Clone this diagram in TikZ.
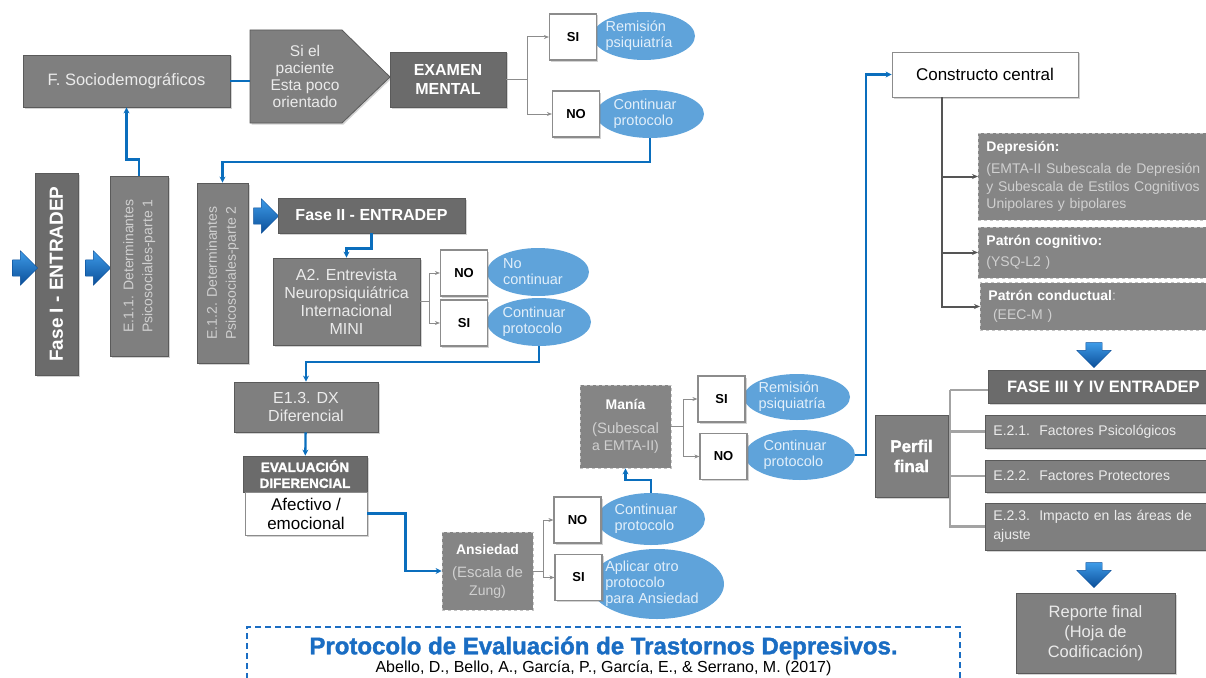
\documentclass[tikz,border=0pt]{standalone}
\usepackage{fontspec}
\setmainfont{Liberation Sans}
\newfontfamily\heavyfont[BoldFeatures={FakeBold=1.6}]{Liberation Sans}
\usetikzlibrary{arrows.meta,shapes.geometric,shapes.arrows,shadows}

\definecolor{boxgray}{HTML}{7F7F7F}
\definecolor{headgray}{HTML}{6B6B6B}
\definecolor{boxline}{HTML}{5A5A5A}
\definecolor{boxtext}{HTML}{EBEBEB}
\definecolor{softtext}{HTML}{D0D0D0}
\definecolor{dashgray}{HTML}{858585}
\definecolor{dashline}{HTML}{C4C4C4}
\definecolor{ellblue}{HTML}{5FA3DA}
\definecolor{elltext}{HTML}{E2EFFA}
\definecolor{flowblue}{HTML}{0A6EBD}
\definecolor{branchgray}{HTML}{8C8C8C}
\definecolor{treegray}{HTML}{555555}
\definecolor{plinegray}{HTML}{A3A3A3}
\definecolor{arrowtop}{HTML}{3E9BE8}
\definecolor{arrowbot}{HTML}{0B4F99}
\definecolor{titleblue}{HTML}{1A6DC3}

\begin{document}
\begin{tikzpicture}[x=1pt, y=-1pt,
    shade/.style={drop shadow={shadow xshift=1.5pt, shadow yshift=-1.5pt, opacity=0.35}},
    box/.style={rectangle, fill=boxgray, draw=boxline, line width=0.8pt, shade,
        text=boxtext, align=center, inner sep=3pt, font=\fontsize{16}{18}\selectfont},
    headbox/.style={box, fill=headgray, text=white, font=\bfseries\fontsize{16}{19}\selectfont},
    whitebox/.style={box, fill=white, draw=branchgray, text=black, font=\fontsize{17}{19}\selectfont},
    dashbox/.style={rectangle, fill=dashgray, draw=dashline, dashed, line width=0.8pt,
        text=softtext, align=center, inner sep=8pt, font=\fontsize{14}{17.5}\selectfont},
    choice/.style={rectangle, fill=white, draw=branchgray, line width=1.2pt, shade,
        minimum width=47, minimum height=46, font=\bfseries\fontsize{13}{15}\selectfont},
    answer/.style={ellipse, fill=ellblue, inner sep=0pt,
        label={[align=left, text=elltext, xshift=-5pt, font=\fontsize{14.5}{16}\selectfont]center:{#1}}},
    flow/.style={flowblue, line width=2.3pt, -{Stealth[length=6pt, width=6pt]}},
    link/.style={flowblue, line width=2.3pt},
    branch/.style={branchgray, line width=1pt, -{Stealth[length=5pt, width=4pt]}},
    tree/.style={treegray, line width=2pt, -{Stealth[length=6pt, width=5pt]}},
    pline/.style={plinegray, line width=2.5pt},
    bigarrow/.style={single arrow, draw=arrowbot, top color=arrowtop, bottom color=arrowbot,
        inner sep=8pt, minimum height=25, single arrow head extend=9pt},
    titlebox/.style={rectangle, draw=titleblue, line width=1.5pt, dash pattern=on 6pt off 4pt,
        align=center}
]
    \useasboundingbox (0,0) rectangle (1206,677);

    % fase I
    \node[box, minimum width=207, minimum height=52, font=\fontsize{16.5}{18}\selectfont]
        (socio) at (126.5,81) {F. Sociodemográficos};
    \draw[fill=boxgray, draw=boxline, line width=0.8pt, shade]
        (250,30) -- (342,30) -- (390,77) -- (342,123) -- (250,123) -- cycle;
    \node[text=boxtext, align=center, font=\fontsize{15.5}{17}\selectfont] (paciente) at (305,76)
        {Si el\\paciente\\Esta poco\\orientado};
    \coordinate (pentL) at (250,81);
    \node[headbox, minimum width=116, minimum height=55] (examen) at (448,79.5) {EXAMEN\\MENTAL};

    \node[answer={Remisión\\psiquiatría}, minimum width=102, minimum height=48] (remA) at (644,36) {};
    \node[answer={Continuar\\protocolo}, minimum width=108, minimum height=48] (contA) at (650,114) {};
    \node[choice] (siA) at (573,37) {SI};
    \node[choice] (noA) at (576,114) {NO};

    \node[headbox, minimum width=43, minimum height=202, font=\bfseries\fontsize{19}{21}\selectfont]
        (fase1) at (56.5,274) {\rotatebox{90}{Fase I - ENTRADEP}};
    \node[bigarrow] (in0) at (21,268) {};
    \node[bigarrow] (in1) at (94,268) {};
    \node[box, text=softtext, minimum width=58, minimum height=180, font=\fontsize{14}{19}\selectfont]
        (e11) at (139,266) {\rotatebox{90}{\begin{tabular}{@{}c@{}}E.1.1. Determinantes\\Psicosociales-parte 1\end{tabular}}};
    \node[box, text=softtext, minimum width=51, minimum height=180, font=\fontsize{14}{19}\selectfont]
        (e12) at (222.5,273) {\rotatebox{90}{\begin{tabular}{@{}c@{}}E.1.2. Determinantes\\Psicosociales-parte 2\end{tabular}}};

    % fase II
    \node[bigarrow] (in2) at (262,216) {};
    \node[headbox, minimum width=187, minimum height=35] (fase2) at (371.5,215.5) {Fase II - ENTRADEP};
    \node[box, minimum width=147, minimum height=87] (a2) at (346.5,301.5)
        {A2. Entrevista\\Neuropsiquiátrica\\Internacional\\MINI};
    \node[answer={No\\continuar}, minimum width=102, minimum height=48] (noContB) at (538,272) {};
    \node[answer={Continuar\\protocolo}, minimum width=104, minimum height=48] (contB) at (539,322) {};
    \node[choice] (noB) at (464,273) {NO};
    \node[choice] (siB) at (464,323) {SI};

    \node[box, minimum width=144, minimum height=50] (e13) at (306,407) {E1.3. DX\\Diferencial};
    \node[headbox, minimum width=124, minimum height=36, font=\heavyfont\bfseries\fontsize{13.5}{16}\selectfont]
        (evalh) at (305,474) {EVALUACIÓN\\DIFERENCIAL};
    \node[whitebox, minimum width=122, minimum height=43] (afect) at (306,513.5) {Afectivo /\\emocional};

    \node[dashbox, minimum width=91, minimum height=78] (ansied) at (487.5,571)
        {{\bfseries\color{white}Ansiedad}\\[6pt]\fontsize{15}{17}\selectfont(Escala de\\Zung)};
    \node[answer={Continuar\\protocolo}, minimum width=108, minimum height=52] (contC) at (651,519) {};
    \node[answer={Aplicar otro\\protocolo\\para Ansiedad}, minimum width=134, minimum height=70] (aplic) at (657,584) {};
    \node[choice] (noC) at (577.5,520) {NO};
    \node[choice] (siC) at (578.5,577.5) {SI};

    \node[dashbox, minimum width=91, minimum height=83] (mania) at (625.5,426.5)
        {{\bfseries\color{white}Manía}\\[6pt]\fontsize{15}{17}\selectfont(Subescal\\a EMTA-II)};
    \node[answer={Remisión\\psiquiatría}, minimum width=106, minimum height=46] (remD) at (797,397) {};
    \node[answer={Continuar\\protocolo}, minimum width=110, minimum height=50] (contD) at (800,455) {};
    \node[choice] (siD) at (721.5,399) {SI};
    \node[choice] (noD) at (723.5,456.5) {NO};

    % constructo y fases III-IV
    \node[whitebox, minimum width=186, minimum height=45] (constr) at (985,74.5) {Constructo central};
    \node[dashbox, anchor=west, align=left, minimum width=240, minimum height=87, text width=224]
        (depr) at (978,176.5) {{\bfseries\color{white}Depresión:}\\[5pt](EMTA-II Subescala de Depresión\\y Subescala de Estilos Cognitivos\\Unipolares y bipolares};
    \node[dashbox, anchor=west, align=left, minimum width=240, minimum height=51, text width=224]
        (pcog) at (978,252.5) {{\bfseries\color{white}Patrón cognitivo:}\\[3pt](YSQ-L2 )};
    \node[dashbox, anchor=west, align=left, minimum width=238, minimum height=43, text width=222]
        (pcond) at (980,306.5) {{\bfseries\color{white}Patrón conductual}:\\[1pt]\ (EEC-M )};
    \coordinate (ctop) at (942,97);

    \node[bigarrow, shape border rotate=270] (dn1) at (1094,351) {};
    \node[headbox, anchor=west, minimum width=230, minimum height=33, font=\bfseries\fontsize{16.5}{18}\selectfont]
        (fase34) at (988,386.5) {FASE III Y IV ENTRADEP};
    \node[headbox, fill=boxgray, minimum width=73, minimum height=82, font=\heavyfont\bfseries\fontsize{17}{20}\selectfont]
        (perfil) at (911.5,456) {Perfil\\final};
    \node[box, anchor=west, align=left, minimum width=232, minimum height=33, text width=216, inner xsep=8pt,
        font=\fontsize{14}{17}\selectfont] (e21) at (985,431.5) {E.2.1.\ \ Factores Psicológicos};
    \node[box, anchor=west, align=left, minimum width=232, minimum height=32, text width=216, inner xsep=8pt,
        font=\fontsize{14}{17}\selectfont] (e22) at (985,476) {E.2.2.\ \ Factores Protectores};
    \node[box, anchor=west, align=left, minimum width=232, minimum height=47, text width=216, inner xsep=8pt,
        font=\fontsize{14}{19}\selectfont] (e23) at (985,526.5) {E.2.3.\ \ Impacto en las áreas de\\ajuste};
    \coordinate (ptop) at (950,390);

    \node[bigarrow, shape border rotate=270] (dn2) at (1094,571) {};
    \node[box, minimum width=159, minimum height=80, font=\fontsize{16.5}{20}\selectfont] (reporte) at (1095.5,633)
        {Reporte final\\(Hoja de\\Codificación)};

    \node[titlebox, minimum width=713, minimum height=58] (title) at (603.5,656)
        {{\heavyfont\bfseries\color{titleblue}\fontsize{24}{25}\selectfont Protocolo de Evaluación de Trastornos Depresivos.}\\[0pt]
         {\fontsize{16}{17}\selectfont Abello, D., Bello, A., García, P., García, E., \& Serrano, M. (2017)}};

    % conectores
    \draw[link] (socio.east) -- (pentL);
    \draw[flow] (e11.north) -- ++(0,-16) -| (socio.south);
    \draw[flow] (contA.south) -- ++(0,24) -| (e12.north);
    \draw[flow] (fase2.south) -- ++(0,15) -| (a2.north);
    \draw[flow] (contB.south) -- ++(0,16) -| (e13.north);
    \draw[flow] (e13) -- (evalh);
    \draw[flow] (afect.east) -- ++(38,0) |- (ansied.west);
    \draw[flow] (contC.north) -- ++(0,-13) -| (mania.south);
    \draw[flow] (contD.east) -- ++(11,0) |- (constr.west);

    \draw[branch] (examen.east) -- (527,79.5) |- (siA.west);
    \draw[branch] (527,79.5) |- (noA.west);
    \draw[branch] (a2.east) -- (429,301.5) |- (noB.west);
    \draw[branch] (429,301.5) |- (siB.west);
    \draw[branch] (ansied.east) -- (543,571) |- (noC.west);
    \draw[branch] (543,571) |- (siC.west);
    \draw[branch] (mania.east) -- (683,426.5) |- (siD.west);
    \draw[branch] (683,426.5) |- (noD.west);

    \draw[tree] (ctop) |- (depr.west);
    \draw[tree] (ctop) |- (pcog.west);
    \draw[tree] (ctop) |- (pcond.west);

    \draw[pline] (ptop) -- (ptop |- e23.west) -- (e23.west);
    \draw[pline] (ptop) -- (ptop -| fase34.west);
    \draw[pline] (ptop |- e21.west) -- (e21.west);
    \draw[pline] (ptop |- e22.west) -- (e22.west);
\end{tikzpicture}
\end{document}
